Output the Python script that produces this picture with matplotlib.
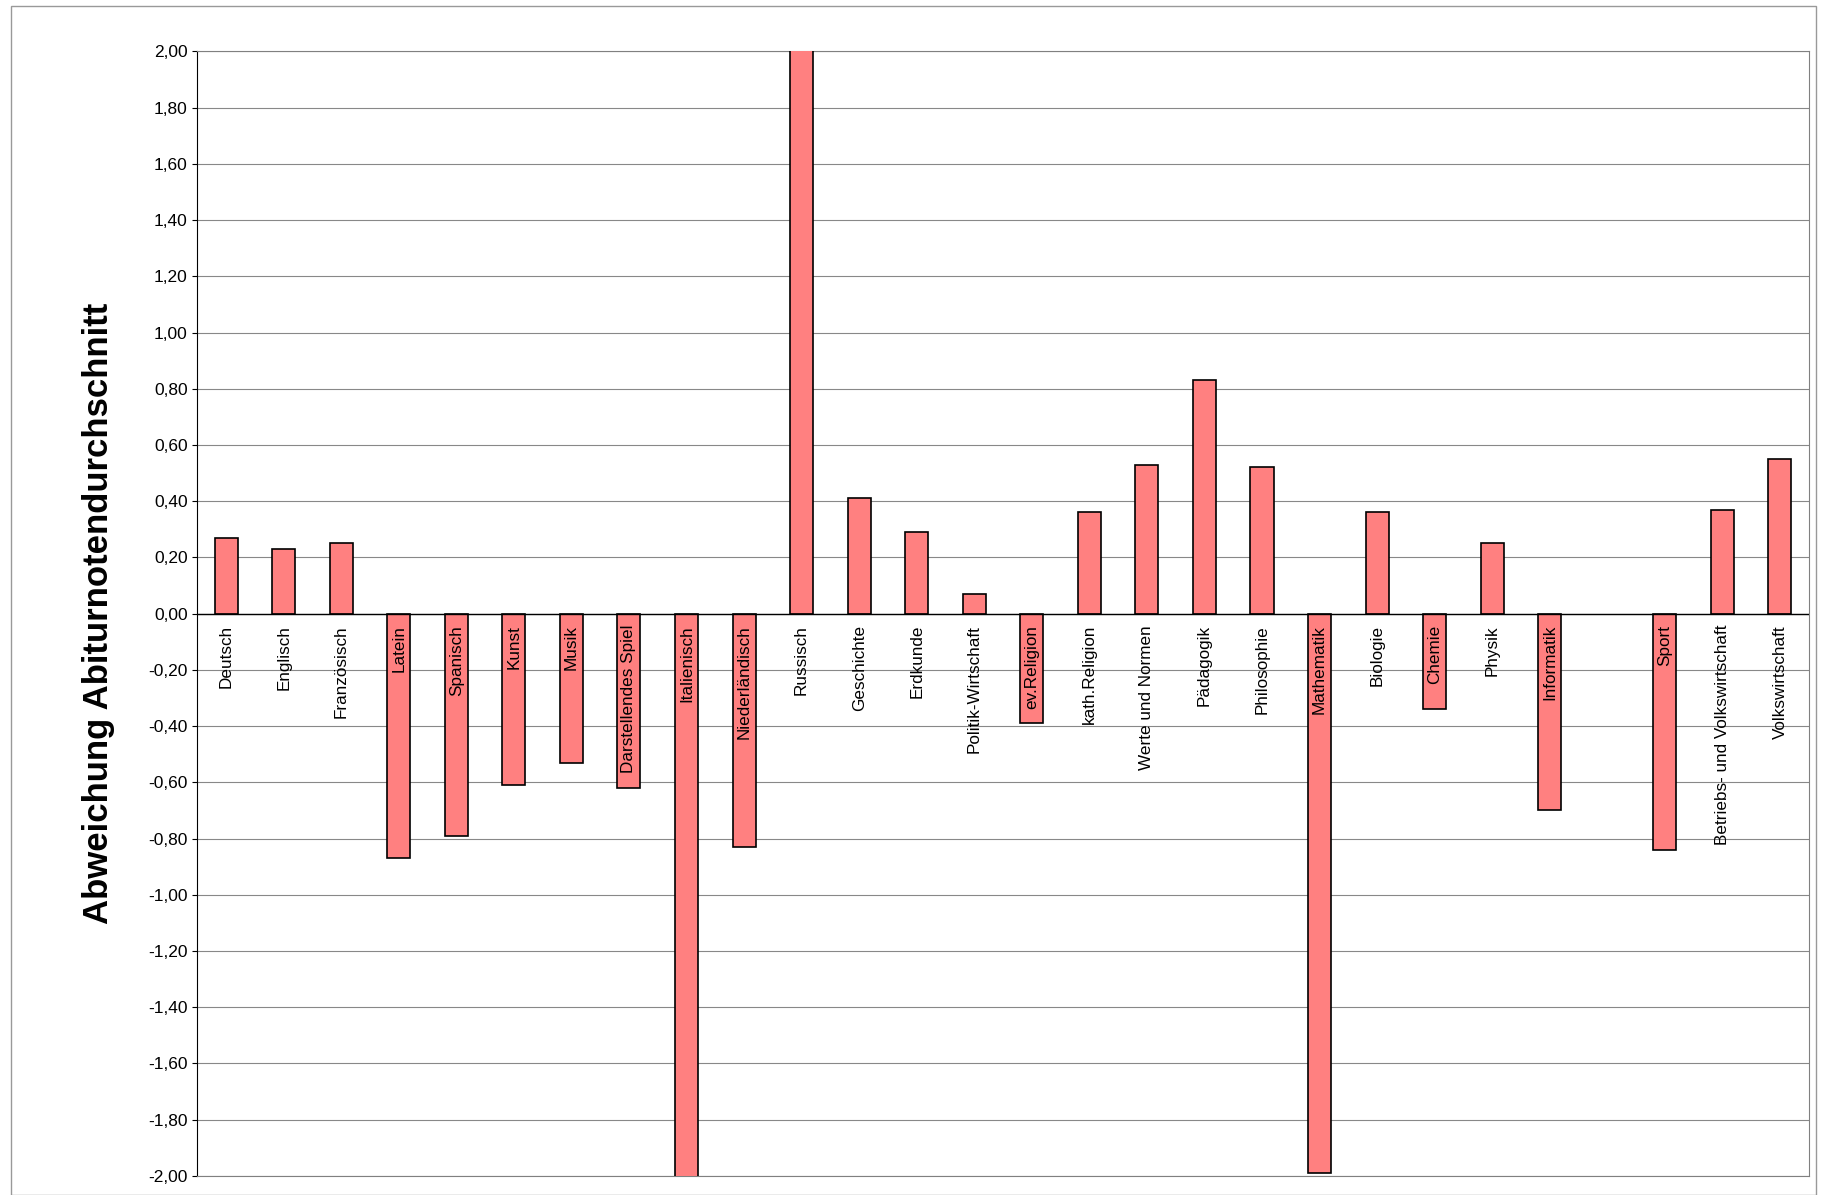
import matplotlib
matplotlib.use("Agg")
import matplotlib.pyplot as plt
import numpy as np

categories = ["Deutsch","Englisch","Französisch","Latein","Spanisch","Kunst","Musik",
              "Darstellendes Spiel","Italienisch","Niederländisch","Russisch","Geschichte",
              "Erdkunde","Politik-Wirtschaft","ev.Religion","kath.Religion","Werte und Normen",
              "Pädagogik","Philosophie","Mathematik","Biologie","Chemie","Physik","Informatik",
              "","Sport","Betriebs- und Volkswirtschaft","Volkswirtschaft"]
values = [0.27,0.23,0.25,-0.87,-0.79,-0.61,-0.53,-0.62,-2.05,-0.83,2.05,0.41,0.29,0.07,
          -0.39,0.36,0.53,0.83,0.52,-1.99,0.36,-0.34,0.25,-0.70,np.nan,-0.84,0.37,0.55]
yticks = np.arange(-2.0, 2.01, 0.2)

fig = plt.figure(figsize=(18.27, 11.95), dpi=100)
fig.patches.append(plt.Rectangle((0.006, 0.0), 0.988, 0.995, transform=fig.transFigure,
                                 fill=False, edgecolor="#999999", lw=1))
ax = fig.add_axes([0.108, 0.016, 0.882, 0.941])
x = np.arange(len(categories))
ax.bar(x, values, width=0.4, color="#FF8080", edgecolor="black", lw=1.2, zorder=3)
ax.set_xlim(-0.5, len(categories) - 0.5)
ax.set_ylim(-2.0, 2.0)
ax.set_yticks(yticks)
ax.set_yticklabels([f"{t:.2f}".replace(".", ",").replace("-0,00", "0,00") for t in yticks], fontsize=12.5)
ax.yaxis.grid(True, color="#888888", lw=0.8, zorder=0)
ax.set_xticks([])
ax.axhline(0, color="black", lw=1, zorder=4)
for xi, c in zip(x, categories):
    if c:
        ax.text(xi, -0.04, c, rotation=90, ha="center", va="top", fontsize=12.3,
                fontfamily="Liberation Sans", zorder=5)
for s in ax.spines.values():
    s.set_color("#808080")
ax.spines["left"].set_color("black")
ax.set_ylabel("Abweichung Abiturnotendurchschnitt", fontsize=25, fontweight="bold",
              fontfamily="Liberation Sans", labelpad=24)
for lbl in ax.get_yticklabels():
    lbl.set_fontfamily("Liberation Sans")
fig.savefig("out.png", dpi=100)
